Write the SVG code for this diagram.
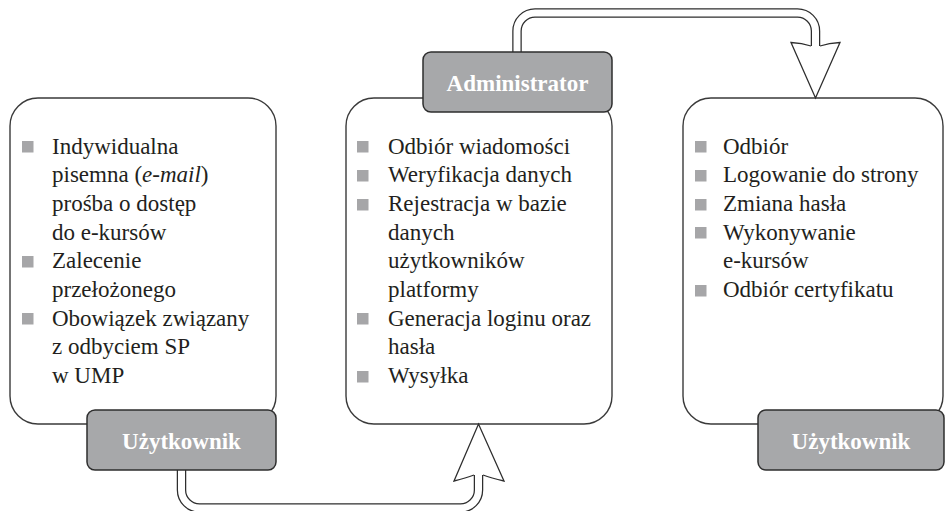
<svg xmlns="http://www.w3.org/2000/svg" width="945" height="511" viewBox="0 0 945 511">
<style>
.box{fill:#fff;stroke:#3a3a3a;stroke-width:1.4}
.lbl{fill:#a7a8aa;stroke:#2e2e2e;stroke-width:1.5}
.lt{font-family:'Liberation Serif','DejaVu Serif','Times New Roman',serif;font-weight:bold;font-size:23px;fill:#fff;text-anchor:middle}
.t{font-family:'Liberation Serif','DejaVu Serif','Times New Roman',serif;font-size:23px;fill:#231f20}
.b{fill:#a6a6a8}
.tubeO{fill:none;stroke:#2e2e2e;stroke-width:9.5}
.tubeI{fill:none;stroke:#fff;stroke-width:7}
.headF{fill:#fff;stroke:none}
.headS{fill:none;stroke:#2e2e2e;stroke-width:1.3;stroke-linejoin:miter}
</style>
<rect width="945" height="511" fill="#fff"/>

<g id="box1">
<rect class="box" x="10" y="98" width="266" height="326" rx="28"/>
<rect class="b" x="22" y="141" width="11.5" height="11.5"/>
<rect class="b" x="22" y="256" width="11.5" height="11.5"/>
<rect class="b" x="22" y="313" width="11.5" height="11.5"/>
<text class="t" font-family="Liberation Serif, DejaVu Serif, serif" x="52" y="153.5">Indywidualna</text>
<text class="t" font-family="Liberation Serif, DejaVu Serif, serif" x="52" y="182.2">pisemna (<tspan font-style="italic">e-mail</tspan>)</text>
<text class="t" font-family="Liberation Serif, DejaVu Serif, serif" x="52" y="210.9">prośba o dostęp</text>
<text class="t" font-family="Liberation Serif, DejaVu Serif, serif" x="52" y="239.6">do e-kursów</text>
<text class="t" font-family="Liberation Serif, DejaVu Serif, serif" x="52" y="268.3">Zalecenie</text>
<text class="t" font-family="Liberation Serif, DejaVu Serif, serif" x="52" y="297">przełożonego</text>
<text class="t" font-family="Liberation Serif, DejaVu Serif, serif" x="52" y="325.7">Obowiązek związany</text>
<text class="t" font-family="Liberation Serif, DejaVu Serif, serif" x="52" y="354.4">z odbyciem SP</text>
<text class="t" font-family="Liberation Serif, DejaVu Serif, serif" x="52" y="383.1">w UMP</text>
</g>

<g id="box2">
<rect class="box" x="346" y="98" width="266" height="326" rx="28"/>
<rect class="b" x="357" y="141" width="11.5" height="11.5"/>
<rect class="b" x="357" y="170" width="11.5" height="11.5"/>
<rect class="b" x="357" y="199" width="11.5" height="11.5"/>
<rect class="b" x="357" y="313" width="11.5" height="11.5"/>
<rect class="b" x="357" y="371" width="11.5" height="11.5"/>
<text class="t" font-family="Liberation Serif, DejaVu Serif, serif" x="388" y="153.5">Odbiór wiadomości</text>
<text class="t" font-family="Liberation Serif, DejaVu Serif, serif" x="388" y="182.2">Weryfikacja danych</text>
<text class="t" font-family="Liberation Serif, DejaVu Serif, serif" x="388" y="210.9">Rejestracja w bazie</text>
<text class="t" font-family="Liberation Serif, DejaVu Serif, serif" x="388" y="239.6">danych</text>
<text class="t" font-family="Liberation Serif, DejaVu Serif, serif" x="388" y="268.3">użytkowników</text>
<text class="t" font-family="Liberation Serif, DejaVu Serif, serif" x="388" y="297">platformy</text>
<text class="t" font-family="Liberation Serif, DejaVu Serif, serif" x="388" y="325.7">Generacja loginu oraz</text>
<text class="t" font-family="Liberation Serif, DejaVu Serif, serif" x="388" y="354.4">hasła</text>
<text class="t" font-family="Liberation Serif, DejaVu Serif, serif" x="388" y="383.1">Wysyłka</text>
</g>

<g id="box3">
<rect class="box" x="683" y="98" width="260" height="326" rx="28"/>
<rect class="b" x="695" y="141" width="11.5" height="11.5"/>
<rect class="b" x="695" y="170" width="11.5" height="11.5"/>
<rect class="b" x="695" y="199" width="11.5" height="11.5"/>
<rect class="b" x="695" y="227" width="11.5" height="11.5"/>
<rect class="b" x="695" y="285" width="11.5" height="11.5"/>
<text class="t" font-family="Liberation Serif, DejaVu Serif, serif" x="723" y="153.5">Odbiór</text>
<text class="t" font-family="Liberation Serif, DejaVu Serif, serif" x="723" y="182.2">Logowanie do strony</text>
<text class="t" font-family="Liberation Serif, DejaVu Serif, serif" x="723" y="210.9">Zmiana hasła</text>
<text class="t" font-family="Liberation Serif, DejaVu Serif, serif" x="723" y="239.6">Wykonywanie</text>
<text class="t" font-family="Liberation Serif, DejaVu Serif, serif" x="723" y="268.3">e-kursów</text>
<text class="t" font-family="Liberation Serif, DejaVu Serif, serif" x="723" y="297">Odbiór certyfikatu</text>
</g>

<g id="connectors">
<path class="tubeO" d="M517,53 V31 A18,18 0 0 1 535,13 H797.5 A18,18 0 0 1 815.5,31 V48"/>
<path class="tubeI" d="M517,54 V31 A18,18 0 0 1 535,13 H797.5 A18,18 0 0 1 815.5,31 V49"/>
<path class="headF" d="M811,46 Q802,43 791,42.5 L815.5,98 L840,42.5 Q829,43 820,46 Z"/>
<path class="headS" d="M811,46 Q802,43 791,42.5 L815.5,98 L840,42.5 Q829,43 820,46"/>

<path class="tubeO" d="M181.5,469 V490 A18,18 0 0 0 199.5,508 H460.5 A18,18 0 0 0 478.5,490 V473"/>
<path class="tubeI" d="M181.5,468 V490 A18,18 0 0 0 199.5,508 H460.5 A18,18 0 0 0 478.5,490 V472"/>
<path class="headF" d="M474,475 Q466,478 454,481 L478.5,424 L504,481 Q491,478 483,475 Z"/>
<path class="headS" d="M474,475 Q466,478 454,481 L478.5,424 L504,481 Q491,478 483,475"/>
</g>

<g id="label-admin">
<rect class="lbl" x="423" y="52" width="189" height="60" rx="8"/>
<text class="lt" font-family="Liberation Serif, DejaVu Serif, serif" x="517.5" y="90.5">Administrator</text>
</g>
<g id="label-user1">
<rect class="lbl" x="87" y="410" width="189" height="60" rx="8"/>
<text class="lt" font-family="Liberation Serif, DejaVu Serif, serif" x="181.5" y="449">Użytkownik</text>
</g>
<g id="label-user2">
<rect class="lbl" x="758" y="410" width="186" height="60" rx="8"/>
<text class="lt" font-family="Liberation Serif, DejaVu Serif, serif" x="851" y="449">Użytkownik</text>
</g>
</svg>
